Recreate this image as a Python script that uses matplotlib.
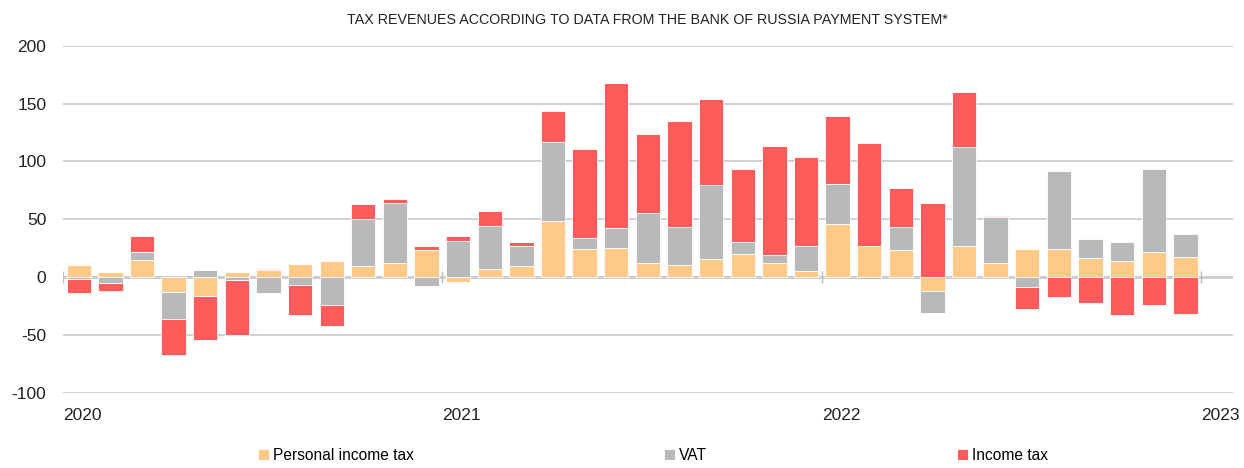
import matplotlib.pyplot as plt
import numpy as np

# monthly values, Jan 2020 .. Dec 2022
pit = [10, 4.6, 14.4, -13.3, -16.7, 4.6, 5.8, 11.5, 13.5, 9.5, 11.8, 23.3,
       -4.3, 6.6, 9.5, 48.1, 23.9, 25.1, 11.8, 10.4, 15.6, 19.6, 11.8, 5.2,
       46.1, 26.5, 23.3, -12.1, 26.5, 12.4, 24.5, 23.9, 16.1, 13.5, 21.9, 17.3]
vat = [-2, -5.2, 6.9, -23.3, 5.8, -2.6, -13.8, -6.6, -23.9, 40.3, 52.4, -7.8,
       30.8, 38.0, 17.3, 68.9, 10.1, 17.0, 43.8, 32.8, 63.7, 10.4, 6.9, 21.3,
       34.3, -2.0, 19.9, -18.7, 86.2, 39.5, -8.9, 67.5, 16.4, 16.4, 71.8, 19.9]
income = [-11.5, -7, 13.8, -30.5, -37.5, -47.3, 0.9, -25.9, -18.7, 13.3, 3.5, 3.7,
          4.6, 12.7, 3.2, 26.8, 76.4, 126.2, 68.3, 92.0, 74.6, 63.1, 94.3, 77.0,
          58.5, 89.1, 33.7, 63.7, 47.0, 0.9, -18.4, -17.0, -22.2, -32.6, -24.2, -32.0]
years = ["2020", "2021", "2022", "2023"]

series = [("Personal income tax", pit, "#FFCA87"),
          ("VAT", vat, "#B8B9BB"),
          ("Income tax", income, "#FF5B5B")]

plt.rcParams['font.family'] = ['Liberation Sans', 'DejaVu Sans']
plt.rcParams['axes.unicode_minus'] = False

fig = plt.figure(figsize=(12.44, 4.68), dpi=100)
ax = fig.add_axes([0.0506, 0.161, 0.9404, 0.741])

x = np.arange(len(pit)) + 0.5
pos_bottom = np.zeros(len(pit))
neg_bottom = np.zeros(len(pit))
for name, vals, color in series:
    v = np.array(vals, dtype=float)
    bottom = np.where(v >= 0, pos_bottom, neg_bottom)
    ax.bar(x, v, width=0.77, bottom=bottom, color=color, label=name,
           edgecolor="#FFFFFF", linewidth=0.6, zorder=3)
    pos_bottom += np.where(v >= 0, v, 0)
    neg_bottom += np.where(v < 0, v, 0)

ax.set_xlim(0, 37)
ax.set_ylim(-100, 200)
ax.set_yticks([-100, -50, 0, 50, 100, 150, 200])
ax.yaxis.grid(True, color="#C8C8C8", linewidth=1.2, zorder=0)
ax.axhline(0, color="#CFCFCF", linewidth=2.2, zorder=2)

year_pos = [12 * i for i in range(len(years))]
ax.set_xticks(year_pos)
ax.set_xticklabels(years, ha="left")
ax.vlines(year_pos, -5, 5, color="#BDBDBD", linewidth=1, zorder=2)

for s in ax.spines.values():
    s.set_visible(False)
ax.tick_params(axis="both", length=0, labelsize=12.5, colors="#222222")
ax.tick_params(axis="y", pad=12)
ax.tick_params(axis="x", pad=11)

ax.set_title("TAX REVENUES ACCORDING TO DATA FROM THE BANK OF RUSSIA PAYMENT SYSTEM*",
             fontsize=10.3, color="#222222", pad=16)

fig.legend(loc="lower center", bbox_to_anchor=(0.525, -0.02), ncol=3, frameon=False,
           fontsize=11.2, handlelength=0.7, handleheight=0.7, handletextpad=0.26,
           columnspacing=16.1)

plt.savefig("out.png", dpi=100)
plt.close()
